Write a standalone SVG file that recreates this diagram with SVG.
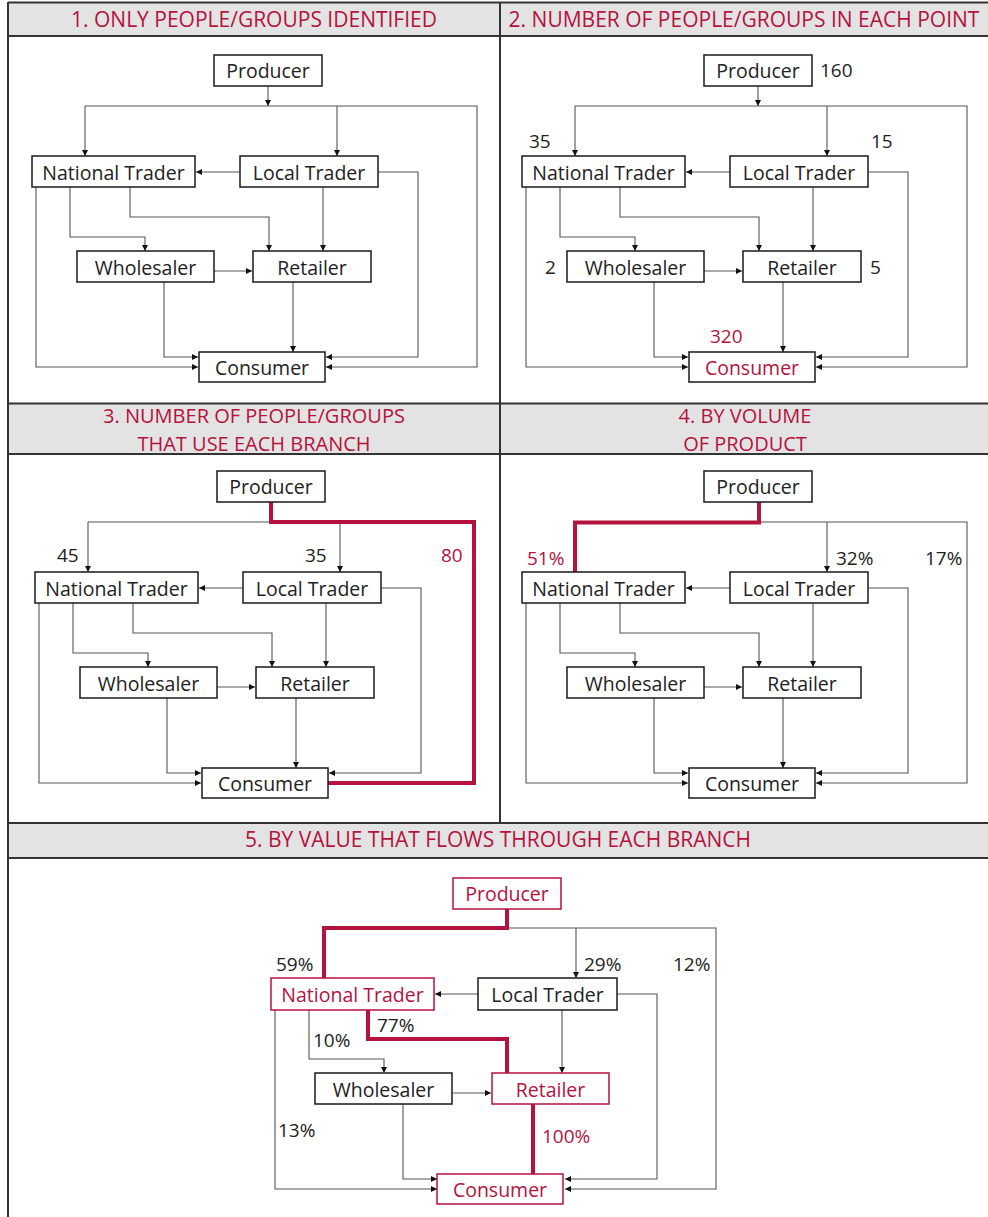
<svg xmlns="http://www.w3.org/2000/svg" width="988" height="1217" viewBox="0 0 988 1217">
<defs>
<marker id="ah" markerUnits="userSpaceOnUse" markerWidth="8" markerHeight="8" refX="6" refY="3" orient="auto">
<path d="M0,0 L6,3 L0,6 z" fill="#111"/>
</marker>
<style>
text{font-family:"Open Sans","Noto Sans","DejaVu Sans",sans-serif}
.box{fill:#fff;stroke:#1a1a1a;stroke-width:1.5}
.rbox{fill:#fff;stroke:#b5123e;stroke-width:1.5}
.lbl{font-size:19.5px;fill:#222;text-anchor:middle}
.rl{fill:#b5123e}
.num{font-size:19px;fill:#222}
.rn{font-size:19px;fill:#b5123e}
.c{fill:none;stroke:#555;stroke-width:1.1}
.ca{fill:none;stroke:#555;stroke-width:1.1;marker-end:url(#ah)}
.hl{fill:none;stroke:#b5123e;stroke-width:4}
.hd{fill:#e3e3e3}
.ttl{font-size:21px;fill:#b5123e;text-anchor:middle}
.ttl2{font-size:20px;fill:#b5123e;text-anchor:middle}
.fr{stroke:#333;stroke-width:2;fill:none}
</style>
</defs>

<!-- frames and headers -->
<g id="frame">
<rect class="hd" x="8" y="3" width="980" height="33"/>
<rect class="hd" x="8" y="404" width="980" height="50"/>
<rect class="hd" x="8" y="823" width="980" height="35"/>
<path class="fr" d="M8,2.5 H988 M8,2 V1217 M500,2 V823 M8,36 H988 M8,403.5 H988 M8,454 H988 M8,823 H988 M8,858 H988"/>
<text class="ttl" x="254" y="27">1. ONLY PEOPLE/GROUPS IDENTIFIED</text>
<text class="ttl" x="744" y="27">2. NUMBER OF PEOPLE/GROUPS IN EACH POINT</text>
<text class="ttl2" x="254" y="423">3. NUMBER OF PEOPLE/GROUPS</text>
<text class="ttl2" x="254" y="450.5">THAT USE EACH BRANCH</text>
<text class="ttl2" x="745" y="423">4. BY VOLUME</text>
<text class="ttl2" x="745" y="450.5">OF PRODUCT</text>
<text class="ttl" x="498" y="847">5. BY VALUE THAT FLOWS THROUGH EACH BRANCH</text>
</g>

<!-- PANEL 1 -->
<g id="panel1">
<g id="p1-connectors">
<path class="ca" d="M268,86 V106"/>
<path class="ca" d="M85,106 H477 V367 H326"/>
<path class="ca" d="M85,106 V156"/>
<path class="ca" d="M337,106 V156"/>
<path class="ca" d="M240,172 H196"/>
<path class="ca" d="M378,172 H418 V357 H326"/>
<path class="ca" d="M36,187 V367 H198"/>
<path class="ca" d="M70,187 V237 H145 V251"/>
<path class="ca" d="M130,187 V217 H269 V251"/>
<path class="ca" d="M323,187 V251"/>
<path class="ca" d="M214,271 H252"/>
<path class="ca" d="M164,282 V357 H198"/>
<path class="ca" d="M293,282 V352"/>
</g>
<g id="p1-producer"><rect class="box" x="214" y="55" width="108" height="31"/><text class="lbl" x="268" y="78">Producer</text></g>
<g id="p1-national"><rect class="box" x="32" y="156" width="163" height="31"/><text class="lbl" x="113.5" y="179.5">National Trader</text></g>
<g id="p1-local"><rect class="box" x="240" y="156" width="138" height="31"/><text class="lbl" x="309" y="179.5">Local Trader</text></g>
<g id="p1-wholesaler"><rect class="box" x="77" y="251" width="137" height="31"/><text class="lbl" x="145.5" y="274.5">Wholesaler</text></g>
<g id="p1-retailer"><rect class="box" x="253" y="251" width="118" height="31"/><text class="lbl" x="312" y="274.5">Retailer</text></g>
<g id="p1-consumer"><rect class="box" x="199" y="352" width="126" height="30"/><text class="lbl" x="262" y="375">Consumer</text></g>
</g>

<!-- PANEL 2 -->
<g id="panel2" transform="translate(490,0)">
<g id="p2-connectors">
<path class="ca" d="M268,86 V106"/>
<path class="ca" d="M85,106 H477 V367 H326"/>
<path class="ca" d="M85,106 V156"/>
<path class="ca" d="M337,106 V156"/>
<path class="ca" d="M240,172 H196"/>
<path class="ca" d="M378,172 H418 V357 H326"/>
<path class="ca" d="M36,187 V367 H198"/>
<path class="ca" d="M70,187 V237 H145 V251"/>
<path class="ca" d="M130,187 V217 H269 V251"/>
<path class="ca" d="M323,187 V251"/>
<path class="ca" d="M214,271 H252"/>
<path class="ca" d="M164,282 V357 H198"/>
<path class="ca" d="M293,282 V352"/>
</g>
<g id="p2-producer"><rect class="box" x="214" y="55" width="108" height="31"/><text class="lbl" x="268" y="78">Producer</text></g>
<g id="p2-national"><rect class="box" x="32" y="156" width="163" height="31"/><text class="lbl" x="113.5" y="179.5">National Trader</text></g>
<g id="p2-local"><rect class="box" x="240" y="156" width="138" height="31"/><text class="lbl" x="309" y="179.5">Local Trader</text></g>
<g id="p2-wholesaler"><rect class="box" x="77" y="251" width="137" height="31"/><text class="lbl" x="145.5" y="274.5">Wholesaler</text></g>
<g id="p2-retailer"><rect class="box" x="253" y="251" width="118" height="31"/><text class="lbl" x="312" y="274.5">Retailer</text></g>
<g id="p2-consumer"><rect class="box" x="199" y="352" width="126" height="30"/><text class="lbl rl" x="262" y="375">Consumer</text></g>
<g id="p2-labels">
<text class="num" x="330" y="77">160</text>
<text class="num" x="39" y="148">35</text>
<text class="num" x="381" y="148">15</text>
<text class="num" x="55" y="274">2</text>
<text class="num" x="380" y="274">5</text>
<text class="rn" x="220" y="343">320</text>
</g>
</g>

<!-- PANEL 3 -->
<g id="panel3" transform="translate(3,416)">
<g id="p3-connectors">
<path class="c" d="M85,106 H337"/>
<path class="ca" d="M85,106 V156"/>
<path class="ca" d="M337,106 V156"/>
<path class="ca" d="M240,172 H196"/>
<path class="ca" d="M378,172 H418 V357 H326"/>
<path class="ca" d="M36,187 V367 H198"/>
<path class="ca" d="M70,187 V237 H145 V251"/>
<path class="ca" d="M130,187 V217 H269 V251"/>
<path class="ca" d="M323,187 V251"/>
<path class="ca" d="M214,271 H252"/>
<path class="ca" d="M164,282 V357 H198"/>
<path class="ca" d="M293,282 V352"/>
<path class="hl" d="M268,86 V106 H471 V367 H325"/>
</g>
<g id="p3-producer"><rect class="box" x="214" y="55" width="108" height="31"/><text class="lbl" x="268" y="78">Producer</text></g>
<g id="p3-national"><rect class="box" x="32" y="156" width="163" height="31"/><text class="lbl" x="113.5" y="179.5">National Trader</text></g>
<g id="p3-local"><rect class="box" x="240" y="156" width="138" height="31"/><text class="lbl" x="309" y="179.5">Local Trader</text></g>
<g id="p3-wholesaler"><rect class="box" x="77" y="251" width="137" height="31"/><text class="lbl" x="145.5" y="274.5">Wholesaler</text></g>
<g id="p3-retailer"><rect class="box" x="253" y="251" width="118" height="31"/><text class="lbl" x="312" y="274.5">Retailer</text></g>
<g id="p3-consumer"><rect class="box" x="199" y="352" width="126" height="30"/><text class="lbl" x="262" y="375">Consumer</text></g>
<g id="p3-labels">
<text class="num" x="54" y="146">45</text>
<text class="num" x="302" y="146">35</text>
<text class="rn" x="438" y="146">80</text>
</g>
</g>

<!-- PANEL 4 -->
<g id="panel4" transform="translate(490,416)">
<g id="p4-connectors">
<path class="ca" d="M269,106 H477 V367 H326"/>
<path class="ca" d="M337,106 V156"/>
<path class="ca" d="M240,172 H196"/>
<path class="ca" d="M378,172 H418 V357 H326"/>
<path class="ca" d="M36,187 V367 H198"/>
<path class="ca" d="M70,187 V237 H145 V251"/>
<path class="ca" d="M130,187 V217 H269 V251"/>
<path class="ca" d="M323,187 V251"/>
<path class="ca" d="M214,271 H252"/>
<path class="ca" d="M164,282 V357 H198"/>
<path class="ca" d="M293,282 V352"/>
<path class="hl" d="M269,86 V106.5 H85 V156"/>
</g>
<g id="p4-producer"><rect class="box" x="214" y="55" width="108" height="31"/><text class="lbl" x="268" y="78">Producer</text></g>
<g id="p4-national"><rect class="box" x="32" y="156" width="163" height="31"/><text class="lbl" x="113.5" y="179.5">National Trader</text></g>
<g id="p4-local"><rect class="box" x="240" y="156" width="138" height="31"/><text class="lbl" x="309" y="179.5">Local Trader</text></g>
<g id="p4-wholesaler"><rect class="box" x="77" y="251" width="137" height="31"/><text class="lbl" x="145.5" y="274.5">Wholesaler</text></g>
<g id="p4-retailer"><rect class="box" x="253" y="251" width="118" height="31"/><text class="lbl" x="312" y="274.5">Retailer</text></g>
<g id="p4-consumer"><rect class="box" x="199" y="352" width="126" height="30"/><text class="lbl" x="262" y="375">Consumer</text></g>
<g id="p4-labels">
<text class="rn" x="37" y="149">51%</text>
<text class="num" x="346" y="149">32%</text>
<text class="num" x="435" y="149">17%</text>
</g>
</g>

<!-- PANEL 5 -->
<g id="panel5" transform="translate(239,822)">
<g id="p5-connectors">
<path class="ca" d="M268,106 H477 V367 H326"/>
<path class="ca" d="M337,106 V156"/>
<path class="ca" d="M240,172 H196"/>
<path class="ca" d="M378,172 H418 V357 H326"/>
<path class="ca" d="M36,188 V367 H198"/>
<path class="ca" d="M70,188 V237 H145 V251"/>
<path class="ca" d="M323,187 V251"/>
<path class="ca" d="M214,271 H252"/>
<path class="ca" d="M164,282 V357 H198"/>
<path class="hl" d="M268,87 V106 H85 V156"/>
<path class="hl" d="M129,188 V217 H268 V251"/>
<path class="hl" d="M294,282 V352"/>
</g>
<g id="p5-producer"><rect class="rbox" x="214" y="56" width="108" height="31"/><text class="lbl rl" x="268" y="79">Producer</text></g>
<g id="p5-national"><rect class="rbox" x="32" y="156" width="163" height="32"/><text class="lbl rl" x="113.5" y="180">National Trader</text></g>
<g id="p5-local"><rect class="box" x="239" y="156" width="139" height="32"/><text class="lbl" x="308.5" y="180">Local Trader</text></g>
<g id="p5-wholesaler"><rect class="box" x="76" y="251" width="137" height="31"/><text class="lbl" x="144.5" y="274.5">Wholesaler</text></g>
<g id="p5-retailer"><rect class="rbox" x="253" y="251" width="117" height="31"/><text class="lbl rl" x="311.5" y="274.5">Retailer</text></g>
<g id="p5-consumer"><rect class="rbox" x="198" y="352" width="126" height="30"/><text class="lbl rl" x="261" y="375">Consumer</text></g>
<g id="p5-labels">
<text class="num" x="37" y="149">59%</text>
<text class="num" x="345" y="149">29%</text>
<text class="num" x="434" y="149">12%</text>
<text class="num" x="138" y="210">77%</text>
<text class="num" x="74" y="225">10%</text>
<text class="num" x="39" y="315">13%</text>
<text class="rn" x="303" y="321">100%</text>
</g>
</g>
</svg>
